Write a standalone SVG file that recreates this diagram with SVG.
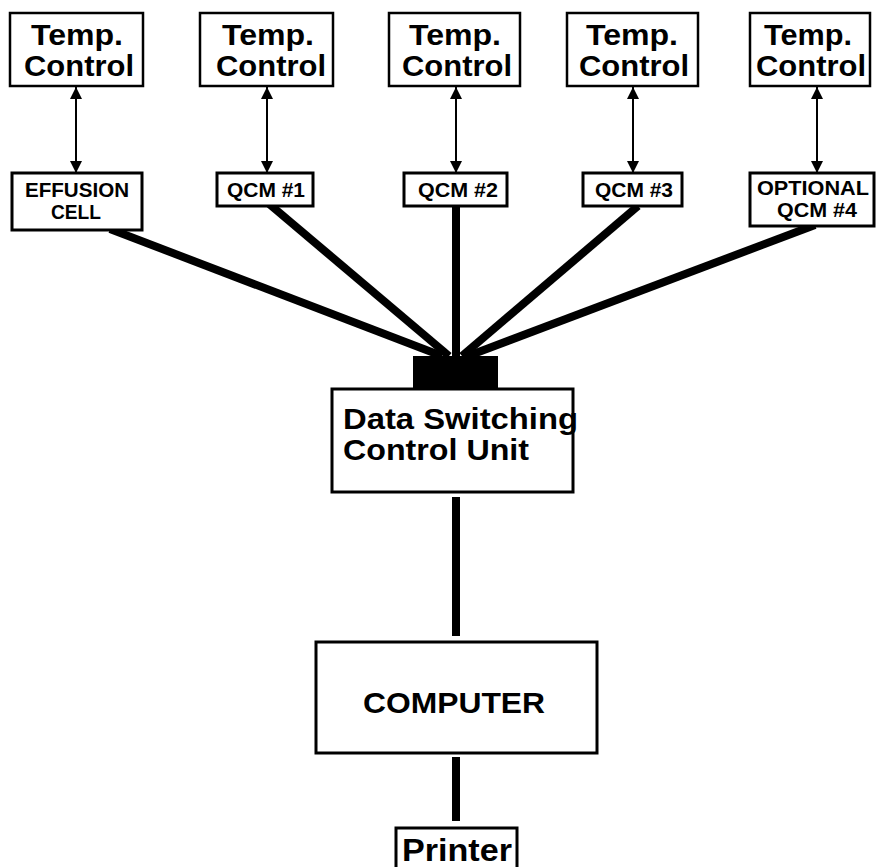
<svg xmlns="http://www.w3.org/2000/svg" width="882" height="867" viewBox="0 0 882 867">
<style>
.box{fill:#fff;stroke:#000;stroke-width:2.5}
.bbox{fill:#fff;stroke:#000;stroke-width:3}
.t{font-family:"Liberation Sans",Arial,sans-serif;font-weight:bold;fill:#000;text-anchor:middle}
.big{font-size:29px}
.sm{font-size:20px}
.thin{stroke:#000;stroke-width:2;fill:none;marker-start:url(#ah);marker-end:url(#ah)}
.thick{stroke:#000;stroke-width:8;fill:none}
</style>
<defs>
<marker id="ah" viewBox="0 0 12 12" refX="12" refY="6" markerWidth="12" markerHeight="12" markerUnits="userSpaceOnUse" orient="auto-start-reverse">
<path d="M0,0 L12,6 L0,12 z" fill="#000"/>
</marker>
</defs>
<rect width="882" height="867" fill="#fff"/>
<g id="connectors">
<line class="thin" x1="76" y1="87" x2="76" y2="173"/>
<line class="thin" x1="267" y1="87" x2="267" y2="173"/>
<line class="thin" x1="456" y1="87" x2="456" y2="173"/>
<line class="thin" x1="633" y1="87" x2="633" y2="173"/>
<line class="thin" x1="817" y1="87" x2="817" y2="173"/>
<line class="thick" x1="110" y1="229" x2="442" y2="356"/>
<line class="thick" x1="268" y1="203" x2="449" y2="356"/>
<line class="thick" x1="456" y1="206" x2="456" y2="356"/>
<line class="thick" x1="638" y1="206" x2="462" y2="356"/>
<line class="thick" x1="815" y1="225" x2="468" y2="356"/>
<line class="thick" x1="456" y1="497" x2="456" y2="636"/>
<line class="thick" x1="456" y1="757" x2="456" y2="821"/>
</g>
<g id="temp1"><rect class="box" x="10" y="13" width="133" height="73"/><text class="t big" x="77" y="45" textLength="92" lengthAdjust="spacingAndGlyphs">Temp.</text><text class="t big" x="79" y="76" textLength="110" lengthAdjust="spacingAndGlyphs">Control</text></g>
<g id="temp2"><rect class="box" x="200" y="13" width="133" height="73"/><text class="t big" x="268" y="45" textLength="92" lengthAdjust="spacingAndGlyphs">Temp.</text><text class="t big" x="271" y="76" textLength="110" lengthAdjust="spacingAndGlyphs">Control</text></g>
<g id="temp3"><rect class="box" x="389" y="13" width="131" height="73"/><text class="t big" x="455" y="45" textLength="92" lengthAdjust="spacingAndGlyphs">Temp.</text><text class="t big" x="457" y="76" textLength="110" lengthAdjust="spacingAndGlyphs">Control</text></g>
<g id="temp4"><rect class="box" x="567" y="13" width="131" height="73"/><text class="t big" x="632" y="45" textLength="92" lengthAdjust="spacingAndGlyphs">Temp.</text><text class="t big" x="634" y="76" textLength="110" lengthAdjust="spacingAndGlyphs">Control</text></g>
<g id="temp5"><rect class="box" x="750" y="13" width="120" height="73"/><text class="t big" x="808" y="45" textLength="88" lengthAdjust="spacingAndGlyphs">Temp.</text><text class="t big" x="811" y="76" textLength="110" lengthAdjust="spacingAndGlyphs">Control</text></g>
<g id="effusion"><rect class="bbox" x="12" y="173" width="130" height="57"/><text class="t sm" x="77" y="197" textLength="104" lengthAdjust="spacingAndGlyphs">EFFUSION</text><text class="t sm" x="76" y="219" textLength="50" lengthAdjust="spacingAndGlyphs">CELL</text></g>
<g id="qcm1"><rect class="bbox" x="217" y="173" width="96" height="33"/><text class="t sm" x="266" y="197" textLength="78" lengthAdjust="spacingAndGlyphs">QCM #1</text></g>
<g id="qcm2"><rect class="bbox" x="404" y="173" width="103" height="33"/><text class="t sm" x="458" y="197" textLength="80" lengthAdjust="spacingAndGlyphs">QCM #2</text></g>
<g id="qcm3"><rect class="bbox" x="583" y="173" width="99" height="33"/><text class="t sm" x="634" y="197" textLength="78" lengthAdjust="spacingAndGlyphs">QCM #3</text></g>
<g id="qcm4"><rect class="bbox" x="750" y="173" width="124" height="53"/><text class="t sm" x="813" y="195" textLength="112" lengthAdjust="spacingAndGlyphs">OPTIONAL</text><text class="t sm" x="817" y="217" textLength="80" lengthAdjust="spacingAndGlyphs">QCM #4</text></g>
<g id="dscu"><rect x="413" y="356" width="85" height="33" fill="#000"/><rect class="bbox" x="332" y="389" width="241" height="103"/><text class="t" style="font-size:30px;text-anchor:start" x="343" y="429" textLength="235" lengthAdjust="spacingAndGlyphs">Data Switching</text><text class="t" style="font-size:30px;text-anchor:start" x="343" y="460" textLength="186" lengthAdjust="spacingAndGlyphs">Control Unit</text></g>
<g id="computer"><rect class="bbox" x="316" y="642" width="281" height="111"/><text class="t" style="font-size:30px" x="454" y="713" textLength="182" lengthAdjust="spacingAndGlyphs">COMPUTER</text></g>
<g id="printer"><rect class="bbox" x="396" y="828" width="121" height="50"/><text class="t" style="font-size:32px" x="457" y="861" textLength="110" lengthAdjust="spacingAndGlyphs">Printer</text></g>
</svg>
